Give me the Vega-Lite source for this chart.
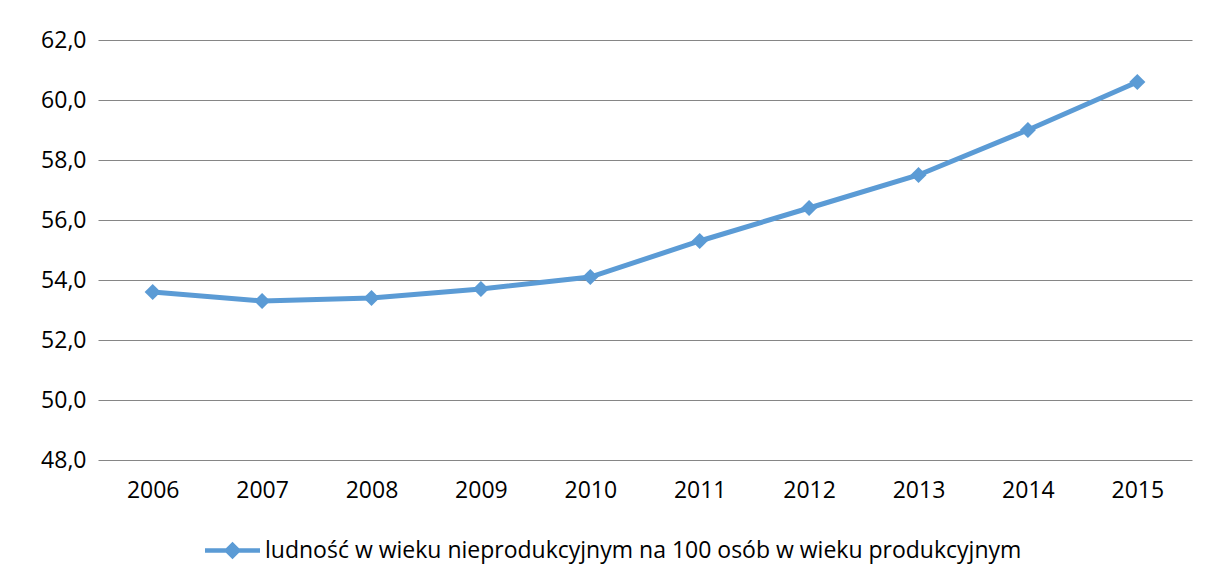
{
  "$schema": "https://vega.github.io/schema/vega-lite/v6.json",
  "width": 1094,
  "height": 420,
  "autosize": {"type": "none"},
  "padding": {"left": 98, "top": 40, "right": 16, "bottom": 122},
  "background": "#ffffff",
  "config": {
    "locale": {"number": {"decimal": ",", "thousands": " ", "grouping": [3], "currency": ["", " zł"]}},
    "view": {"stroke": null},
    "font": "Open Sans"
  },
  "data": {
    "values": [
      {"rok": "2006", "wartosc": 53.6, "seria": "ludność w wieku nieprodukcyjnym na 100 osób w wieku produkcyjnym"},
      {"rok": "2007", "wartosc": 53.3, "seria": "ludność w wieku nieprodukcyjnym na 100 osób w wieku produkcyjnym"},
      {"rok": "2008", "wartosc": 53.4, "seria": "ludność w wieku nieprodukcyjnym na 100 osób w wieku produkcyjnym"},
      {"rok": "2009", "wartosc": 53.7, "seria": "ludność w wieku nieprodukcyjnym na 100 osób w wieku produkcyjnym"},
      {"rok": "2010", "wartosc": 54.1, "seria": "ludność w wieku nieprodukcyjnym na 100 osób w wieku produkcyjnym"},
      {"rok": "2011", "wartosc": 55.3, "seria": "ludność w wieku nieprodukcyjnym na 100 osób w wieku produkcyjnym"},
      {"rok": "2012", "wartosc": 56.4, "seria": "ludność w wieku nieprodukcyjnym na 100 osób w wieku produkcyjnym"},
      {"rok": "2013", "wartosc": 57.5, "seria": "ludność w wieku nieprodukcyjnym na 100 osób w wieku produkcyjnym"},
      {"rok": "2014", "wartosc": 59.0, "seria": "ludność w wieku nieprodukcyjnym na 100 osób w wieku produkcyjnym"},
      {"rok": "2015", "wartosc": 60.6, "seria": "ludność w wieku nieprodukcyjnym na 100 osób w wieku produkcyjnym"}
    ]
  },
  "encoding": {
    "x": {
      "field": "rok", "type": "ordinal",
      "scale": {"type": "point", "padding": 0.5},
      "axis": {"title": null, "labelAngle": 0, "ticks": false, "domain": false, "grid": false,
               "labelFontSize": 23, "labelColor": "#000000", "labelPadding": 19, "labelFont": "Open Sans"}
    },
    "y": {
      "field": "wartosc", "type": "quantitative",
      "scale": {"domain": [48, 62], "nice": false, "zero": false},
      "axis": {"title": null, "values": [48, 50, 52, 54, 56, 58, 60, 62], "format": ".1f",
               "ticks": false, "domain": false, "grid": true, "gridColor": "#868686", "gridWidth": 1,
               "labelFontSize": 23, "labelColor": "#000000", "labelPadding": 12, "labelFont": "Open Sans"}
    },
    "color": {
      "field": "seria", "type": "nominal",
      "scale": {"range": ["#5B9BD5"]},
      "legend": {
        "title": null, "orient": "none", "legendX": 123, "legendY": 499, "direction": "horizontal",
        "symbolType": "M-2.5,-0.2H2.5V0.2H-2.5Z M0,-0.8L0.8,0L0,0.8L-0.8,0Z",
        "symbolSize": 484, "symbolStrokeWidth": 0, "symbolFillColor": "#5B9BD5",
        "labelFontSize": 23, "labelColor": "#000000", "labelFont": "Open Sans", "symbolOffset": 0,
        "labelOffset": 21, "labelLimit": 1000
      }
    }
  },
  "layer": [
    {"mark": {"type": "line", "strokeWidth": 5, "strokeCap": "round"}},
    {"mark": {"type": "point", "shape": "diamond", "filled": true, "opacity": 1, "size": 260}}
  ]
}
